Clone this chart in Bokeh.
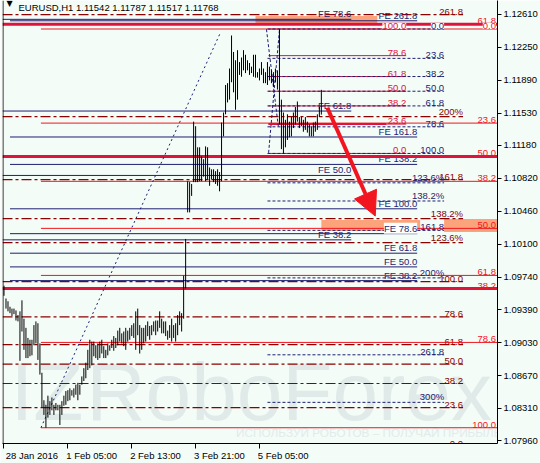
from bokeh.plotting import figure
from bokeh.models import (Range1d, FixedTicker, Label, Arrow, AllLabels,
                          NormalHead, Span, PrintfTickFormatter)
from bokeh.core.properties import value
from bokeh.embed import file_html
from bokeh.resources import INLINE

# ---------------------------------------------------------------------------
# EURUSD H1 bars (high / low), one per hour from 28 Jan 2016 21:00
# ---------------------------------------------------------------------------
highs = [
    1.0965, 1.0951, 1.0948, 1.0942, 1.0940, 1.0940, 1.0938, 1.0933, 1.0937, 1.0949,
    1.0929, 1.0919, 1.0908, 1.0906, 1.0906, 1.0922, 1.0926, 1.0924, 1.0902, 1.0870,
    1.0840, 1.0835, 1.0845, 1.0839, 1.0843, 1.0835, 1.0837, 1.0835, 1.0835, 1.0839,
    1.0845, 1.0850, 1.0851, 1.0853, 1.0851, 1.0853, 1.0857, 1.0859, 1.0857, 1.0866,
    1.0875, 1.0881, 1.0895, 1.0906, 1.0904, 1.0904, 1.0900, 1.0902, 1.0904, 1.0906,
    1.0899, 1.0895, 1.0902, 1.0900, 1.0906, 1.0910, 1.0908, 1.0916, 1.0919, 1.0913,
    1.0915, 1.0919, 1.0916, 1.0919, 1.0922, 1.0924, 1.0937, 1.0940, 1.0922, 1.0919,
    1.0919, 1.0922, 1.0926, 1.0921, 1.0922, 1.0926, 1.0927, 1.0927, 1.0937, 1.0929,
    1.0926, 1.0926, 1.0916, 1.0922, 1.0929, 1.0922, 1.0924, 1.0933, 1.0937, 1.0935,
    1.0976, 1.1016, 1.1079, 1.1078, 1.1076, 1.1144, 1.1139, 1.1116, 1.1116, 1.1106,
    1.1103, 1.1117, 1.1116, 1.1094, 1.1092, 1.1092, 1.1090, 1.1092, 1.1089, 1.1143,
    1.1154, 1.1184, 1.1186, 1.1202, 1.1238, 1.1220, 1.1211, 1.1222, 1.1209, 1.1214,
    1.1222, 1.1217, 1.1211, 1.1208, 1.1204, 1.1217, 1.1217, 1.1198, 1.1202, 1.1209,
    1.1202, 1.1198, 1.1209, 1.1204, 1.1200, 1.1198, 1.1202, 1.1200, 1.1245, 1.1168,
    1.1154, 1.1146, 1.1152, 1.1144, 1.1149, 1.1154, 1.1160, 1.1166, 1.1149, 1.1149,
    1.1146, 1.1149, 1.1144, 1.1141, 1.1139, 1.1143, 1.1144, 1.1152, 1.1160, 1.11787,
]
lows = [
    1.0954, 1.0940, 1.0937, 1.0935, 1.0932, 1.0934, 1.0927, 1.0926, 1.0883, 1.0915,
    1.0895, 1.0886, 1.0886, 1.0888, 1.0889, 1.0900, 1.0902, 1.0884, 1.0868, 1.0832,
    1.0824, 1.0810, 1.0821, 1.0824, 1.0829, 1.0824, 1.0829, 1.0829, 1.0813, 1.0824,
    1.0834, 1.0835, 1.0839, 1.0840, 1.0845, 1.0843, 1.0846, 1.0840, 1.0846, 1.0857,
    1.0861, 1.0864, 1.0873, 1.0875, 1.0878, 1.0888, 1.0886, 1.0884, 1.0886, 1.0891,
    1.0886, 1.0886, 1.0889, 1.0894, 1.0897, 1.0894, 1.0897, 1.0900, 1.0904, 1.0902,
    1.0899, 1.0895, 1.0904, 1.0906, 1.0910, 1.0908, 1.0895, 1.0911, 1.0891, 1.0895,
    1.0902, 1.0904, 1.0910, 1.0906, 1.0911, 1.0915, 1.0911, 1.0915, 1.0919, 1.0913,
    1.0913, 1.0910, 1.0906, 1.0908, 1.0904, 1.0908, 1.0904, 1.0911, 1.0922, 1.0915,
    1.0929, 1.0962, 1.1045, 1.1045, 1.1063, 1.1078, 1.1078, 1.1078, 1.1079, 1.1079,
    1.1084, 1.1079, 1.1081, 1.1074, 1.1081, 1.1078, 1.1076, 1.1074, 1.1068, 1.1079,
    1.1128, 1.1152, 1.1165, 1.1168, 1.1187, 1.1176, 1.1157, 1.1168, 1.1195, 1.1193,
    1.1200, 1.1197, 1.1200, 1.1195, 1.1197, 1.1193, 1.1192, 1.1192, 1.1189, 1.1195,
    1.1186, 1.1186, 1.1184, 1.1189, 1.1186, 1.1182, 1.1187, 1.1179, 1.1141, 1.1114,
    1.1109, 1.1116, 1.1124, 1.1127, 1.1128, 1.1137, 1.1141, 1.1144, 1.1137, 1.1139,
    1.1133, 1.1135, 1.1132, 1.1128, 1.1128, 1.1128, 1.1133, 1.1135, 1.1149, 1.11517,
]
last_bar = dict(open=1.11542, high=1.11787, low=1.11517, close=1.11768)

time_ticks = [0, 32, 64, 96, 128]
time_labels = ["28 Jan 2016", "1 Feb 05:00", "2 Feb 13:00", "3 Feb 21:00", "5 Feb 05:00"]
price_ticks = [1.12610, 1.12250, 1.11890, 1.11530, 1.11180, 1.10820, 1.10460,
               1.10100, 1.09740, 1.09390, 1.09030, 1.08670, 1.08310, 1.07960]

# ---------------------------------------------------------------------------
# Drawing tools.  Fibonacci levels: price = p0 + (p100 - p0) * level / 100
# x spans are in bar numbers.
# ---------------------------------------------------------------------------
X_LO, X_HI = -0.75, 247.25
Y_LO, Y_HI = 1.07928, 1.12762

retr_main = dict(p0=1.12451, p100=1.08100, x=(18.5, X_HI),
                 levels=[0, 23.6, 38.2, 50, 61.8, 78.6, 100])
retr_wide = dict(p0=1.04950, p100=1.17170, x=(X_LO, X_HI),
                 levels=[23.6, 38.2, 50, 61.8])
retr_short = dict(p0=1.11093, p100=1.12451, x=(132.5, 201.5),
                  levels=[0, 23.6, 38.2, 50, 61.8, 78.6, 100])
expn_short = dict(p0=1.12451, p100=1.11093, x=(132.0, 220.5),
                  levels=[0, 23.6, 38.2, 50, 61.8, 78.6, 100, 123.6, 138.2, 161.8, 200, 261.8, 300])
expn_long = dict(p0=1.07895, p100=1.09695, x=(X_LO, 230.0),
                 levels=[0, 23.6, 38.2, 50, 61.8, 78.6, 100, 123.6, 138.2, 161.8, 200, 261.8])
fe_a = dict(p0=1.07875, p100=1.13831, x=(X_LO, 174.0), levels=[38.2, 50, 61.8, 78.6])
fe_b = dict(p0=1.09221, p100=1.10489, x=(3.0, 207.0),
            levels=[38.2, 50, 61.8, 78.6, 100, 138.2, 161.8, 261.8])

# target zones (x0, x1, price bottom, price top)
zones = [(126.0, 187.0, 1.12507, 1.12594),
         (159.0, 208.5, 1.10247, 1.10367),
         (220.5, X_HI, 1.10237, 1.10377)]
# trend lines of the tools
trend_dotted = [(18.5, 1.08100, 108.5, 1.12415)]
trend_dashed = [(131.5, 1.12448, 137.5, 1.11375), (138.0, 1.12437, 132.5, 1.11082)]
# forecast arrow
arrow_from = (162.0, 1.11591)
arrow_to = (186.0, 1.10410)

BG = "#F4FCF7"
NAVY = "#1E1E72"
MAROON = "#8B0000"
RED = "#F2141E"
CRIMSON = "#DC143C"
SALMON = "#FBA47C"
MARK = "#E0EBE9"
FONT = "Liberation Sans"
FS = "9.5px"
NBSP = "\u00a0"


def level_text(lvl, pct=False):
    if pct:
        return ("%g%%" % lvl) if lvl in (200, 300) else ("%.1f%%" % lvl)
    return "%.1f" % lvl


def fib_prices(tool):
    return [tool["p0"] + (tool["p100"] - tool["p0"]) * l / 100.0 for l in tool["levels"]]


p = figure(width=540, height=463, x_range=Range1d(X_LO, X_HI), y_range=Range1d(Y_LO, Y_HI),
           output_backend="svg", toolbar_location=None, y_axis_location="right",
           min_border_left=2, min_border_right=42, min_border_top=0, min_border_bottom=17,
           background_fill_color=BG, border_fill_color=BG, outline_line_color=None)
p.grid.visible = False

# broker watermark, drawn beneath everything
p.text(x=[3.25, 41.25], y=[1.07999, 1.07999], text=["IZ", "RoboForex"],
       text_font=value(FONT), text_font_size="82px", text_color=MARK,
       text_baseline="bottom", level="underlay")
p.text(x=[116.25], y=[1.07971], text=["ИСПОЛЬЗУЙ РОБОТОВ – ПОЛУЧАЙ ПРИБЫЛЬ"],
       text_font=value(FONT), text_font_size="11.8px", text_color="#E2EBEA",
       text_baseline="bottom", level="underlay")

# zones behind the lines
for x0, x1, b, t in zones:
    p.quad(left=[x0], right=[x1], bottom=[b], top=[t], fill_color=SALMON, line_color=None,
           level="underlay")


def draw_levels(tool, color, width=1, dash="solid"):
    ys = fib_prices(tool)
    x0, x1 = tool["x"]
    p.segment(x0=[x0] * len(ys), x1=[x1] * len(ys), y0=ys, y1=ys,
              line_color=color, line_width=width, line_dash=dash)
    return ys


def draw_labels(xs, ys, texts, color):
    p.text(x=xs, y=ys, text=texts, text_align="right", text_baseline="bottom",
           text_font=value(FONT), text_font_size=FS, text_color=color)


# dark-red dash-dot expansion
ys = draw_levels(expn_long, MAROON, 1.2, "10 3 3 3")
draw_labels([expn_long["x"][1]] * len(ys), ys,
            [level_text(l, l in (123.6, 138.2, 200)) for l in expn_long["levels"]], MAROON)

# FE tools
ys = draw_levels(fe_a, NAVY, 1)
draw_labels([fe_a["x"][1]] * len(ys), ys, ["FE %.1f" % l for l in fe_a["levels"]], NAVY)
ys = draw_levels(fe_b, NAVY, 1)
draw_labels([fe_b["x"][1]] * len(ys), ys, ["FE %.1f" % l for l in fe_b["levels"]], NAVY)

# wide retracement (thick)
ys = draw_levels(retr_wide, CRIMSON, 3)
draw_labels([246.5] * len(ys), ys, [level_text(l) for l in retr_wide["levels"]], RED)

# main retracement
ys = draw_levels(retr_main, RED, 1)
draw_labels([246.5] * (len(ys) - 1), ys[1:], [level_text(l) for l in retr_main["levels"][1:]], RED)

# short retracement and its expansion
ys = draw_levels(retr_short, CRIMSON, 1)
p.segment(x0=[132.5], x1=[191.5], y0=[ys[1]], y1=[ys[1]], line_color=CRIMSON, line_width=2)
draw_labels([retr_short["x"][1]] * (len(ys) - 1), ys[:-1],
            [level_text(l) for l in retr_short["levels"][:-1]], CRIMSON)

ys = draw_levels(expn_short, NAVY, 1, "3 2")
draw_labels([expn_short["x"][1]] * (len(ys) - 1), ys[1:],
            [level_text(l, l in (123.6, 138.2, 200, 300)) for l in expn_short["levels"][1:]], NAVY)

# trend lines
for x0, y0, x1, y1 in trend_dotted:
    p.line([x0, x1], [y0, y1], line_color=NAVY, line_width=1, line_dash="2 3")
for x0, y0, x1, y1 in trend_dashed:
    p.line([x0, x1], [y0, y1], line_color=NAVY, line_width=1, line_dash="3 2")

# price bars
idx = list(range(len(highs)))
p.segment(x0=idx, x1=idx, y0=lows, y1=highs, line_color="black", line_width=1)

# boxed labels sitting on top of the lines
for x, y, txt, col in [(201.5, retr_short["p100"], "100.0", CRIMSON),
                       (220.5, expn_short["p0"], "0.0", NAVY),
                       (246.5, retr_main["p0"], "0.0", RED)]:
    p.add_layout(Label(x=x, y=y, text=txt, text_align="right", text_baseline="bottom",
                       text_font=FONT, text_font_size=FS, text_color=col,
                       background_fill_color="white"))
p.add_layout(Label(x=207.0, y=fe_b["p0"] + (fe_b["p100"] - fe_b["p0"]) * 0.786, text="FE 78.6",
                   text_align="right", text_baseline="bottom", text_font=FONT, text_font_size=FS,
                   text_color=NAVY, background_fill_color="white"))

# forecast arrow
p.add_layout(Arrow(end=NormalHead(size=24, fill_color=RED, line_color=RED),
                   x_start=arrow_from[0], y_start=arrow_from[1],
                   x_end=arrow_to[0], y_end=arrow_to[1], line_color=RED, line_width=4))

# left border of the chart window
p.add_layout(Span(location=X_LO + 0.25, dimension="height", line_color="black", line_width=1))

# symbol header
p.add_layout(Label(x=4, y=440, x_units="screen", y_units="screen", text="▼",
                   text_font="DejaVu Sans", text_font_size="8px", text_color="black",
                   text_baseline="middle"))
p.add_layout(Label(x=16, y=436, x_units="screen", y_units="screen",
                   text="EURUSD,H1  %.5f %.5f %.5f %.5f" % (last_bar["open"], last_bar["high"],
                                                            last_bar["low"], last_bar["close"]),
                   text_font=FONT, text_font_size=FS, text_color="black", text_baseline="middle"))

# axes; time labels are centred by the axis, so a run of no-break spaces in
# front of each one makes it start at its tick instead
xa = p.xaxis[0]
xa.ticker = FixedTicker(ticks=time_ticks)
lead = [2, 18, 18, 18, 18]
xa.major_label_overrides = {t: NBSP * n + s for t, s, n in zip(time_ticks, time_labels, lead)}
xa.major_label_policy = AllLabels()
xa.major_tick_out = 5
xa.major_tick_in = 0
xa.minor_tick_line_color = None
xa.major_label_standoff = 1
ya = p.yaxis[0]
ya.ticker = FixedTicker(ticks=price_ticks)
ya.formatter = PrintfTickFormatter(format="%.5f")
ya.major_tick_out = 4
ya.major_tick_in = 0
ya.minor_tick_line_color = None
ya.major_label_standoff = 2
for ax in (xa, ya):
    ax.axis_line_color = "black"
    ax.major_tick_line_color = "black"
    ax.major_label_text_font = FONT
    ax.major_label_text_font_size = FS
    ax.major_label_text_color = "black"

# current price marker
p.add_layout(Label(x=497, y=last_bar["close"], x_units="screen", text="%.5f" % last_bar["close"],
                   text_font=FONT, text_font_size=FS, text_color="white", text_baseline="middle",
                   background_fill_color="black", border_line_color="black"))

open("out.html", "w").write(file_html(p, INLINE))
